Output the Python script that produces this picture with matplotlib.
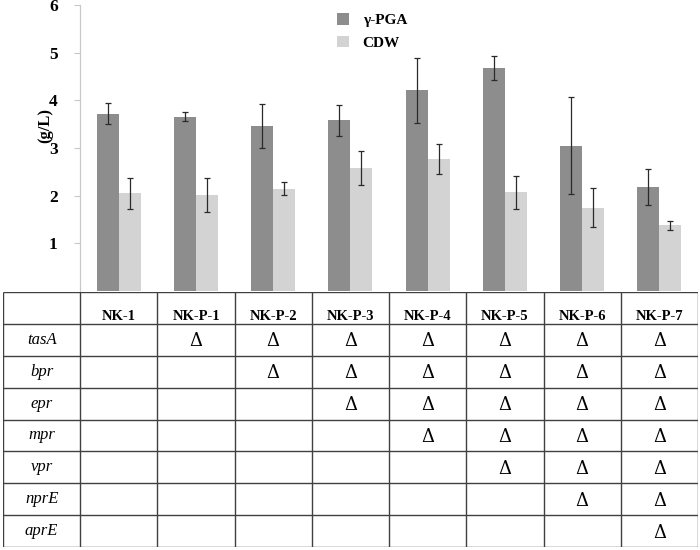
import numpy as np
import matplotlib
matplotlib.use("Agg")
import matplotlib.pyplot as plt

# donnees
strains = ["NK-1", "NK-P-1", "NK-P-2", "NK-P-3", "NK-P-4", "NK-P-5", "NK-P-6", "NK-P-7"]
pga = [3.72, 3.66, 3.47, 3.58, 4.21, 4.68, 3.05, 2.18]
pga_err = [0.22, 0.10, 0.46, 0.33, 0.68, 0.26, 1.02, 0.38]
cdw = [2.05, 2.02, 2.15, 2.58, 2.77, 2.07, 1.75, 1.38]
cdw_err = [0.32, 0.36, 0.13, 0.36, 0.31, 0.34, 0.41, 0.09]
genes = ["tasA", "bpr", "epr", "mpr", "vpr", "nprE", "aprE"]
n_deleted = [0, 1, 2, 3, 4, 5, 6, 7]

DARK = "#8d8d8d"
LIGHT = "#d3d3d3"
LINE = "#404040"
SERIF = ["Liberation Serif", "DejaVu Serif"]

plt.rcParams["font.family"] = SERIF

fig = plt.figure(figsize=(7, 5.5), dpi=100)

# --- graphique en barres ---
ax = fig.add_axes([80 / 700, 1 - 291 / 550, 618 / 700, 286 / 550])
x = np.arange(len(strains)) + 0.5
w = 0.285
ekw = dict(ecolor="#2a2a2a", elinewidth=0.9, capsize=2.2, capthick=0.9)
ax.bar(x - w / 2, pga, w, color=DARK, yerr=pga_err, error_kw=ekw, label="γ-PGA")
ax.bar(x + w / 2, cdw, w, color=LIGHT, yerr=cdw_err, error_kw=ekw, label="CDW")
ax.set_xlim(0, len(strains))
ax.set_ylim(0, 6)
ax.set_yticks([1, 2, 3, 4, 5, 6])
ax.set_xticks([])
for s in ["top", "right", "bottom"]:
    ax.spines[s].set_visible(False)
ax.spines["left"].set_color("#c8c8c8")
ax.spines["left"].set_linewidth(0.9)
ax.tick_params(axis="y", length=4, width=0.8, color="#c8c8c8", pad=12,
               labelsize=12.5)
for t in ax.get_yticklabels():
    t.set_fontweight("bold")
ax.set_ylabel("(g/L)", fontsize=12, fontweight="bold")
ax.yaxis.set_label_coords(-0.043, 0.58)
ax.legend(loc="upper left", bbox_to_anchor=(0.393, 1.02), frameon=False,
          prop={"family": SERIF, "weight": "bold", "size": 11},
          handlelength=0.8, handleheight=0.8, handletextpad=0.9, labelspacing=0.55)

# --- tableau des deletions ---
tx = fig.add_axes([3 / 700, 1 - 547 / 550, 695 / 700, 255 / 550])
ncol = len(strains) + 1
nrow = len(genes) + 1
tx.set_xlim(0, ncol)
tx.set_ylim(nrow, 0)
tx.axis("off")
tx.hlines(np.arange(nrow + 1), 0, ncol, color=LINE, lw=1.0)
tx.vlines(np.arange(ncol + 1), 0, nrow, color=LINE, lw=1.0)

for j, s in enumerate(strains):
    tx.text(j + 1.5, 0.78, s, ha="center", va="center", fontsize=10.5,
            fontweight="bold")
for i, g in enumerate(genes):
    tx.text(0.5, i + 1.5, g, ha="center", va="center", fontsize=12,
            style="italic")
    for j, n in enumerate(n_deleted):
        if i < n:
            tx.text(j + 1.5, i + 1.55, "Δ", ha="center", va="center",
                    fontsize=13, family=["DejaVu Serif"])

fig.savefig("out.png", dpi=100)
